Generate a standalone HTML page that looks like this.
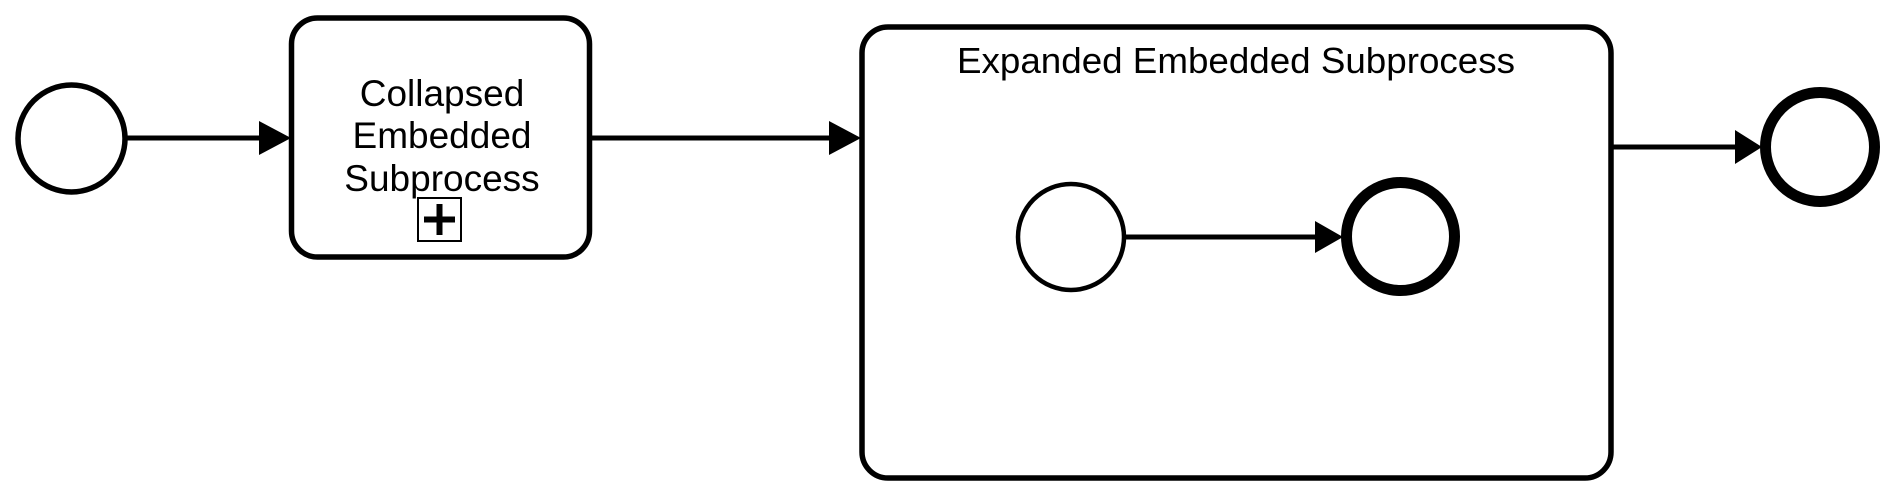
<!DOCTYPE html>
<html><head><meta charset="utf-8"><style>
html,body{margin:0;padding:0;background:#fff;width:1893px;height:495px;overflow:hidden}
svg{display:block}
text{font-family:"Liberation Sans",Arial,sans-serif;fill:#000}
</style></head><body>
<svg width="1893" height="495" viewBox="0 0 1893 495" xmlns="http://www.w3.org/2000/svg">
<rect width="1893" height="495" fill="#fff"/>
<circle cx="71.5" cy="138.5" r="53.5" fill="#fff" stroke="#000" stroke-width="5.5"/>
<line x1="127" y1="138" x2="262" y2="138" stroke="#000" stroke-width="5"/>
<polygon points="259,121 291,138 259,155" fill="#000"/>
<rect x="291.5" y="18" width="298" height="239" rx="26" ry="26" fill="#fff" stroke="#000" stroke-width="5.5"/>
<text x="442" y="106" font-size="37" text-anchor="middle">Collapsed</text>
<text x="442" y="148" font-size="37" text-anchor="middle">Embedded</text>
<text x="442" y="191" font-size="37" text-anchor="middle">Subprocess</text>
<rect x="418" y="198" width="43" height="43" fill="#fff" stroke="#000" stroke-width="2"/>
<line x1="424" y1="219.5" x2="455" y2="219.5" stroke="#000" stroke-width="6"/>
<line x1="439.5" y1="204" x2="439.5" y2="235" stroke="#000" stroke-width="6"/>
<line x1="590" y1="138" x2="832" y2="138" stroke="#000" stroke-width="5"/>
<polygon points="829,121 861,138 829,155" fill="#000"/>
<rect x="862" y="27" width="749" height="451" rx="26" ry="26" fill="none" stroke="#000" stroke-width="5.5"/>
<text x="1236" y="73" font-size="36" text-anchor="middle" textLength="558" lengthAdjust="spacingAndGlyphs">Expanded Embedded Subprocess</text>
<circle cx="1071" cy="237" r="53" fill="#fff" stroke="#000" stroke-width="4.5"/>
<line x1="1124" y1="237" x2="1318" y2="237" stroke="#000" stroke-width="5"/>
<polygon points="1315,221 1343,237 1315,253" fill="#000"/>
<circle cx="1400.5" cy="236.5" r="54" fill="#fff" stroke="#000" stroke-width="11"/>
<line x1="1611" y1="147" x2="1738" y2="147" stroke="#000" stroke-width="5"/>
<polygon points="1735,130 1762,147 1735,164" fill="#000"/>
<circle cx="1820" cy="147" r="54.5" fill="#fff" stroke="#000" stroke-width="11"/>
</svg>
</body></html>
